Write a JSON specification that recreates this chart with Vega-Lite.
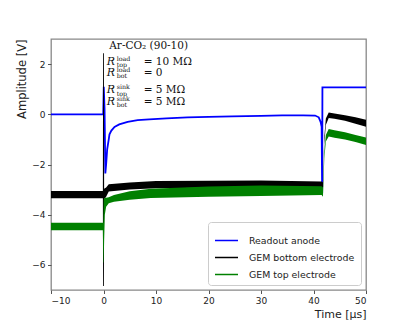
{
  "$schema": "https://vega.github.io/schema/vega-lite/v6.json",
  "width": 315,
  "height": 251,
  "autosize": {"type": "none"},
  "padding": {"left": 51, "top": 39, "right": 41, "bottom": 36},
  "config": {
    "view": {"stroke": "#888888", "strokeWidth": 1.3},
    "axis": {
      "domain": false, "grid": false,
      "labelFont": "DejaVu Sans", "labelFontSize": 9, "labelColor": "#222222", "labelPadding": 2.5,
      "tickColor": "#555555", "tickSize": 3.5,
      "titleFont": "DejaVu Sans", "titleFontSize": 11, "titleFontWeight": "normal", "titleColor": "#222222"
    },
    "legend": {
      "orient": "bottom-right", "offset": 5, "padding": 6,
      "strokeColor": "#cccccc", "fillColor": "white", "cornerRadius": 3,
      "labelFont": "DejaVu Sans", "labelFontSize": 9.4, "labelColor": "#222222",
      "symbolType": "stroke", "symbolSize": 529, "symbolStrokeWidth": 1.5,
      "rowPadding": -8.5, "labelOffset": 10
    }
  },
  "datasets": {
    "anode": [
      {"t": -10, "v": 0}, {"t": -0.2, "v": 0}, {"t": -0.05, "v": 0}, {"t": 0.05, "v": 1.1},
      {"t": 0.2, "v": 0.2}, {"t": 0.35, "v": -2.36}, {"t": 0.5, "v": -2.0}, {"t": 0.7, "v": -1.4},
      {"t": 1.0, "v": -1.0}, {"t": 1.14, "v": -0.8}, {"t": 1.5, "v": -0.65}, {"t": 2.1, "v": -0.5},
      {"t": 3, "v": -0.4}, {"t": 4.6, "v": -0.3}, {"t": 6.5, "v": -0.23}, {"t": 8.7, "v": -0.2},
      {"t": 12, "v": -0.16}, {"t": 16, "v": -0.12}, {"t": 20, "v": -0.1}, {"t": 24.5, "v": -0.08},
      {"t": 30, "v": -0.06}, {"t": 34, "v": -0.04}, {"t": 38, "v": -0.04}, {"t": 40.3, "v": -0.05},
      {"t": 41, "v": -0.12}, {"t": 41.35, "v": -0.3}, {"t": 41.55, "v": -0.5}, {"t": 41.65, "v": -3.15},
      {"t": 41.7, "v": 1.07}, {"t": 50, "v": 1.07}
    ],
    "bottom": [
      {"t": -10, "lo": -3.34, "hi": -3.06}, {"t": -0.12, "lo": -3.34, "hi": -3.06},
      {"t": -0.08, "lo": -6.84, "hi": 2.43}, {"t": 0.08, "lo": -6.84, "hi": 2.43},
      {"t": 0.12, "lo": -3.38, "hi": -2.97}, {"t": 0.5, "lo": -3.28, "hi": -2.92},
      {"t": 1, "lo": -3.08, "hi": -2.79}, {"t": 5, "lo": -3.0, "hi": -2.72},
      {"t": 10, "lo": -2.95, "hi": -2.66}, {"t": 20, "lo": -2.93, "hi": -2.65},
      {"t": 30, "lo": -2.93, "hi": -2.64}, {"t": 41.55, "lo": -2.96, "hi": -2.68},
      {"t": 41.8, "lo": -3.02, "hi": -2.72}, {"t": 42.05, "lo": -1.2, "hi": -0.92},
      {"t": 42.35, "lo": -0.43, "hi": -0.17}, {"t": 42.9, "lo": -0.15, "hi": 0.07},
      {"t": 44, "lo": -0.18, "hi": 0.03}, {"t": 46, "lo": -0.26, "hi": -0.04},
      {"t": 48, "lo": -0.38, "hi": -0.12}, {"t": 50, "lo": -0.5, "hi": -0.22}
    ],
    "top": [
      {"t": -10, "lo": -4.62, "hi": -4.32}, {"t": -0.12, "lo": -4.62, "hi": -4.32},
      {"t": -0.04, "lo": -5.9, "hi": -4.32}, {"t": 0.04, "lo": -5.9, "hi": -3.4},
      {"t": 0.12, "lo": -5.0, "hi": -3.37}, {"t": 0.25, "lo": -4.0, "hi": -3.32},
      {"t": 0.5, "lo": -3.68, "hi": -3.32}, {"t": 1, "lo": -3.54, "hi": -3.3},
      {"t": 2, "lo": -3.48, "hi": -3.22}, {"t": 5, "lo": -3.4, "hi": -3.07},
      {"t": 9, "lo": -3.33, "hi": -2.97}, {"t": 20, "lo": -3.28, "hi": -2.88},
      {"t": 30, "lo": -3.25, "hi": -2.84}, {"t": 41.55, "lo": -3.22, "hi": -2.87},
      {"t": 41.8, "lo": -3.28, "hi": -2.92}, {"t": 42.05, "lo": -1.78, "hi": -1.52},
      {"t": 42.35, "lo": -1.08, "hi": -0.82}, {"t": 42.9, "lo": -0.88, "hi": -0.59},
      {"t": 44, "lo": -0.93, "hi": -0.64}, {"t": 46, "lo": -1.0, "hi": -0.72},
      {"t": 48, "lo": -1.1, "hi": -0.82}, {"t": 50, "lo": -1.22, "hi": -0.92}
    ],
    "head": [{"t": 1.1, "v": 2.72, "label": "Ar-CO₂ (90-10)"}],
    "rmain": [
      {"t": 0.6, "v": 2.09, "label": "R"}, {"t": 0.6, "v": 1.64, "label": "R"},
      {"t": 0.6, "v": 0.96, "label": "R"}, {"t": 0.6, "v": 0.49, "label": "R"}
    ],
    "rsup": [
      {"t": 0.6, "v": 2.09, "label": "load"}, {"t": 0.6, "v": 1.64, "label": "load"},
      {"t": 0.6, "v": 0.96, "label": "sink"}, {"t": 0.6, "v": 0.49, "label": "sink"}
    ],
    "rsub": [
      {"t": 0.6, "v": 2.09, "label": "top"}, {"t": 0.6, "v": 1.64, "label": "bot"},
      {"t": 0.6, "v": 0.96, "label": "top"}, {"t": 0.6, "v": 0.49, "label": "bot"}
    ],
    "req": [
      {"t": 0.6, "v": 2.09, "label": "= 10 MΩ"}, {"t": 0.6, "v": 1.64, "label": "= 0"},
      {"t": 0.6, "v": 0.96, "label": "= 5 MΩ"}, {"t": 0.6, "v": 0.49, "label": "= 5 MΩ"}
    ]
  },
  "encoding": {
    "x": {"field": "t", "type": "quantitative",
          "scale": {"domain": [-10, 50], "nice": false, "zero": false},
          "axis": {"values": [-10, 0, 10, 20, 30, 40, 50], "title": "Time [µs]", "titleAnchor": "end", "titlePadding": 3}},
    "y": {"field": "v", "type": "quantitative",
          "scale": {"domain": [-7, 3], "nice": false, "zero": false},
          "axis": {"values": [-6, -4, -2, 0, 2], "title": "Amplitude [V]", "titleAnchor": "end", "titlePadding": 4, "titleFontSize": 11.5}}
  },
  "layer": [
    {
      "data": {"name": "anode"},
      "mark": {"type": "line", "strokeWidth": 1.8, "clip": true},
      "encoding": {
        "color": {"datum": "Readout anode", "type": "nominal",
                  "scale": {"domain": ["Readout anode", "GEM bottom electrode", "GEM top electrode"],
                            "range": ["#0000ff", "#000000", "#008000"]},
                  "legend": {"title": null}}
      }
    },
    {
      "data": {"name": "bottom"},
      "mark": {"type": "area", "color": "#000000", "opacity": 1, "clip": true},
      "encoding": {"y": {"field": "lo", "type": "quantitative"}, "y2": {"field": "hi"}}
    },
    {
      "data": {"name": "top"},
      "mark": {"type": "area", "color": "#008000", "opacity": 1, "clip": true},
      "encoding": {"y": {"field": "lo", "type": "quantitative"}, "y2": {"field": "hi"}}
    },
    {
      "data": {"name": "head"},
      "mark": {"type": "text", "align": "left", "baseline": "middle", "font": "DejaVu Serif", "fontSize": 10.5, "color": "#111111"},
      "encoding": {"text": {"field": "label"}}
    },
    {
      "data": {"name": "rmain"},
      "mark": {"type": "text", "align": "left", "baseline": "middle", "font": "DejaVu Serif", "fontStyle": "italic", "fontSize": 11, "color": "#111111"},
      "encoding": {"text": {"field": "label"}}
    },
    {
      "data": {"name": "rsup"},
      "mark": {"type": "text", "align": "left", "baseline": "middle", "font": "DejaVu Serif", "fontSize": 6.3, "dx": 10, "dy": -3.3, "color": "#111111"},
      "encoding": {"text": {"field": "label"}}
    },
    {
      "data": {"name": "rsub"},
      "mark": {"type": "text", "align": "left", "baseline": "middle", "font": "DejaVu Serif", "fontSize": 6.3, "dx": 10, "dy": 3.3, "color": "#111111"},
      "encoding": {"text": {"field": "label"}}
    },
    {
      "data": {"name": "req"},
      "mark": {"type": "text", "align": "left", "baseline": "middle", "font": "DejaVu Serif", "fontSize": 10.5, "dx": 37, "color": "#111111"},
      "encoding": {"text": {"field": "label"}}
    }
  ]
}
